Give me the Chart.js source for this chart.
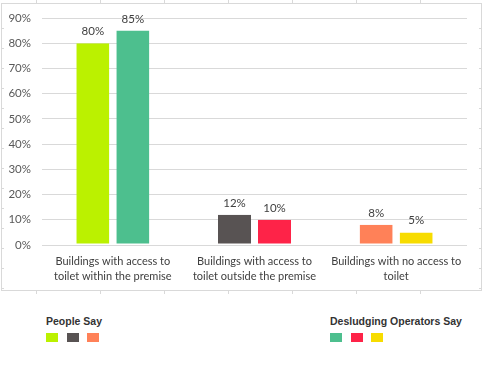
<!DOCTYPE html>
<html>
<head>
<meta charset="utf-8">
<script src="https://cdn.jsdelivr.net/npm/chart.js@4.4.1/dist/chart.umd.min.js"></script>
<style>
  body { margin: 0; background: #fff; }
  #wrap { position: relative; width: 483px; height: 392px; }
  #covyChart { position: absolute; left: 0; top: 0; }
  .lg { position: absolute; font: bold 10.5px "Liberation Sans", Arial, sans-serif; color: #333; }
  .lg .t { white-space: nowrap; }
  .lg .boxes { margin-top: 6px; height: 10px; }
  .lg .boxes span { display: inline-block; width: 12px; height: 9px; margin-right: 8.5px; vertical-align: top; }
</style>
</head>
<body>
<div id="wrap">
  <canvas id="covyChart" width="483" height="300"></canvas>
  <div class="lg" id="lgPeople" style="left:46px; top:315px;"><div class="t">People Say</div><div class="boxes"></div></div>
  <div class="lg" id="lgOps" style="left:330px; top:315px;"><div class="t">Desludging Operators Say</div><div class="boxes"></div></div>
</div>
<script>
const categories = [
  ['Buildings with access to', 'toilet within the premise'],
  ['Buildings with access to', 'toilet outside the premise'],
  ['Buildings with no access to', 'toilet']
];
const peopleSay = [80, 12, 8];
const operatorsSay = [85, 10, 5];
const peopleColors = ['#bbf100', '#585353', '#ff8158'];
const operatorsColors = ['#4dbf8e', '#fe2348', '#f7dc00'];
const yTicks = [0, 10, 20, 30, 40, 50, 60, 70, 80, 90];

// legend boxes
const fillBoxes = (id, colors)=>{
  let box = document.querySelector('#' + id + ' .boxes');
  colors.forEach((c)=>{
    let s = document.createElement('span');
    s.style.background = c;
    box.appendChild(s);
  });
};
fillBoxes('lgPeople', peopleColors);
fillBoxes('lgOps', operatorsColors);

// grey frame with little tick marks, like the original picture
const framePlugin = {
  id: 'frame',
  beforeDraw(chart) {
    const c = chart.ctx;
    c.save();
    c.strokeStyle = '#d9d9d9';
    c.lineWidth = 1;
    c.strokeRect(1.5, 3.5, 480, 287);
    c.beginPath();
    for (let x = 36; x < 481; x += 64) {
      c.moveTo(x + 0.5, 0); c.lineTo(x + 0.5, 3);
      c.moveTo(x + 0.5, 291); c.lineTo(x + 0.5, 294);
    }
    for (let y = 28; y < 290; y += 20) {
      c.moveTo(2, y + 0.5); c.lineTo(4, y + 0.5);
      c.moveTo(479, y + 0.5); c.lineTo(481, y + 0.5);
    }
    c.stroke();
    c.restore();
  }
};

// value labels on top of bars
const labelPlugin = {
  id: 'valueLabels',
  afterDatasetsDraw(chart) {
    const c = chart.ctx;
    c.save();
    c.font = '11.5px Lato, sans-serif';
    c.fillStyle = '#404040';
    c.textAlign = 'center';
    c.textBaseline = 'bottom';
    chart.data.datasets.forEach((ds, i)=>{
      chart.getDatasetMeta(i).data.forEach((bar, j)=>{
        c.fillText(ds.data[j] + '%', bar.x, bar.y - 6);
      });
    });
    c.restore();
  }
};

let ctx = document.getElementById('covyChart').getContext('2d');

let chartOptions = {
  responsive: false,
  animation: false,
  layout: { padding: { left: 0, top: 18, right: 16, bottom: 10 } },
  plugins: {
    legend: { display: false },
    tooltip: { enabled: false }
  },
  scales: {
    x: {
      grid: { display: false, drawTicks: false },
      border: { display: false },
      ticks: {
        color: '#404040',
        font: { family: 'Lato', size: 11, lineHeight: 1.36 },
        padding: 9,
        maxRotation: 0,
        autoSkip: false
      },
      afterFit: (scale)=>{ scale.height = 45; }
    },
    y: {
      min: 0,
      max: 90,
      afterBuildTicks: (scale)=>{ scale.ticks = yTicks.map((v)=>({ value: v })); },
      grid: { color: '#d9d9d9', drawTicks: false },
      border: { display: false },
      ticks: {
        color: '#595959',
        font: { family: 'Lato', size: 11.5 },
        padding: 11,
        callback: (v)=> v + '%'
      },
      afterFit: (scale)=>{ scale.width = 42; }
    }
  }
};

let covyChart = new Chart(ctx, {
  type: 'bar',
  data: {
    labels: categories,
    datasets: [{
      label: 'People Say',
      data: peopleSay,
      backgroundColor: peopleColors,
      borderColor: '#ffffff',
      borderWidth: { top: 0, left: 0, right: 0, bottom: 1 },
      borderSkipped: false,
      categoryPercentage: 0.565,
      barPercentage: 0.825
    }, {
      label: 'Desludging Operators Say',
      data: operatorsSay,
      backgroundColor: operatorsColors,
      borderColor: '#ffffff',
      borderWidth: { top: 0, left: 0, right: 0, bottom: 1 },
      borderSkipped: false,
      categoryPercentage: 0.565,
      barPercentage: 0.825
    }]
  },
  options: chartOptions,
  plugins: [framePlugin, labelPlugin]
});
</script>
</body>
</html>
